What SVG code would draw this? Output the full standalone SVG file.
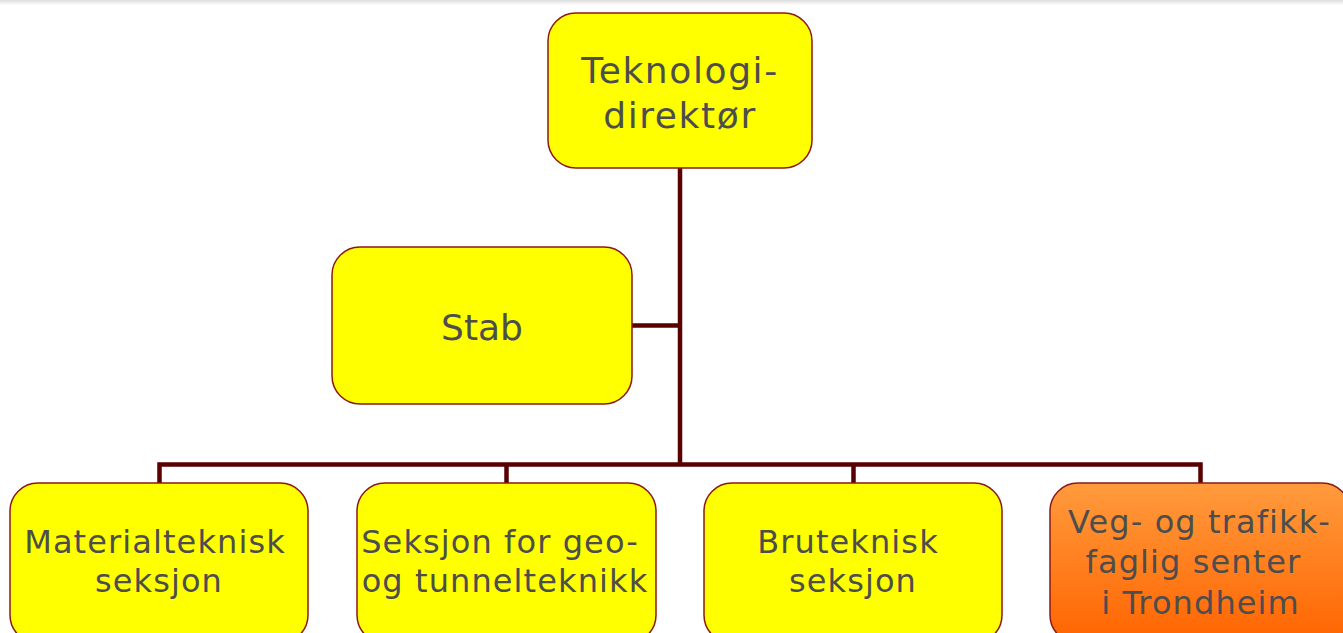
<svg xmlns="http://www.w3.org/2000/svg" width="1343" height="633" viewBox="0 0 1343 633">
<defs>
<linearGradient id="orange" x1="0" y1="0" x2="0" y2="1">
<stop offset="0" stop-color="#ff9b3d"/>
<stop offset="1" stop-color="#ff6400"/>
</linearGradient>
<linearGradient id="topshade" x1="0" y1="0" x2="0" y2="1">
<stop offset="0" stop-color="#dcdcdc"/>
<stop offset="1" stop-color="#ffffff"/>
</linearGradient>
<style>
.box{fill:#ffff00;stroke:#8c1a14;stroke-width:1.5}
.orange{fill:url(#orange);stroke:#8c1a14;stroke-width:1.5}
.lbl{font-family:"DejaVu Sans","Verdana",sans-serif;fill:#4d4d4d;text-anchor:middle}
.big{font-size:36px;letter-spacing:1.6px}
.small{font-size:32px;letter-spacing:1.1px}
.conn{fill:none;stroke:#5a0000;stroke-width:4.5;stroke-linejoin:miter}
</style>
</defs>
<rect x="0" y="0" width="1343" height="633" fill="#ffffff"/>
<rect x="0" y="0" width="1343" height="5" fill="url(#topshade)"/>
<g id="connectors">
<path class="conn" d="M680 168 V464.5"/>
<path class="conn" d="M632 325.5 H680"/>
<path class="conn" d="M159.5 483 V464.5 H1200.5 V483"/>
<path class="conn" d="M506.5 464.5 V483"/>
<path class="conn" d="M853.5 464.5 V483"/>
</g>
<g id="node-teknologidirektor">
<rect class="box" x="548" y="13" width="264" height="155" rx="28"/>
<text class="lbl big" x="680" y="83">Teknologi-</text>
<text class="lbl big" x="680" y="128">direktør</text>
</g>
<g id="node-stab">
<rect class="box" x="332" y="247" width="300" height="157" rx="28"/>
<text class="lbl big" x="482" y="340" style="letter-spacing:0">Stab</text>
</g>
<g id="node-materialteknisk">
<rect class="box" x="10" y="483" width="298" height="160" rx="28"/>
<text class="lbl small" x="155" y="553">Materialteknisk</text>
<text class="lbl small" x="159" y="592">seksjon</text>
</g>
<g id="node-geo-tunnel">
<rect class="box" x="357" y="483" width="299" height="160" rx="28"/>
<text class="lbl small" x="500" y="553">Seksjon for geo-</text>
<text class="lbl small" x="505" y="592">og tunnelteknikk</text>
</g>
<g id="node-bruteknisk">
<rect class="box" x="704" y="483" width="298" height="160" rx="28"/>
<text class="lbl small" x="848" y="553">Bruteknisk</text>
<text class="lbl small" x="853" y="592">seksjon</text>
</g>
<g id="node-veg-trafikk">
<rect class="orange" x="1050" y="483" width="300" height="160" rx="28"/>
<text class="lbl small" x="1199.5" y="533">Veg- og trafikk-</text>
<text class="lbl small" x="1193.5" y="573">faglig senter</text>
<text class="lbl small" x="1200.5" y="614">i Trondheim</text>
</g>
</svg>
